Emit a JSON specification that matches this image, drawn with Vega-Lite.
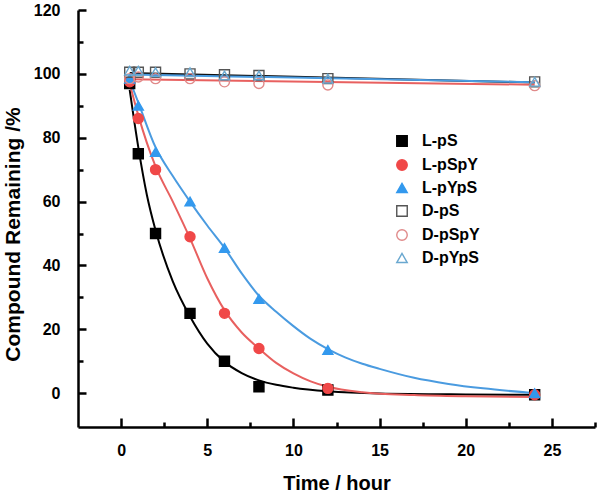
{
  "$schema": "https://vega.github.io/schema/vega-lite/v6.json",
  "width": 517,
  "height": 417,
  "autosize": {"type": "none"},
  "padding": {"left": 78, "top": 10, "right": 5, "bottom": 68},
  "background": "white",
  "config": {
    "view": {"stroke": null},
    "font": "Liberation Sans",
    "axis": {
      "domainColor": "#000",
      "domainWidth": 2.5,
      "tickColor": "#000",
      "tickWidth": 2.5,
      "grid": false,
      "labelFont": "Liberation Sans",
      "labelFontWeight": "bold",
      "labelFontSize": 16,
      "labelColor": "#000",
      "titleFont": "Liberation Sans",
      "titleFontWeight": "bold",
      "titleFontSize": 19,
      "titleColor": "#000"
    }
  },
  "datasets": {
    "pts": [
      {"series": "L-pS", "t": 0.5, "v": 97},
      {"series": "L-pS", "t": 1, "v": 75},
      {"series": "L-pS", "t": 2, "v": 50},
      {"series": "L-pS", "t": 4, "v": 25},
      {"series": "L-pS", "t": 6, "v": 10},
      {"series": "L-pS", "t": 8, "v": 2},
      {"series": "L-pS", "t": 12, "v": 1},
      {"series": "L-pS", "t": 24, "v": -0.5},
      {"series": "L-pSpY", "t": 0.5, "v": 97.5},
      {"series": "L-pSpY", "t": 1, "v": 86},
      {"series": "L-pSpY", "t": 2, "v": 70},
      {"series": "L-pSpY", "t": 4, "v": 49},
      {"series": "L-pSpY", "t": 6, "v": 25},
      {"series": "L-pSpY", "t": 8, "v": 14},
      {"series": "L-pSpY", "t": 12, "v": 1.5},
      {"series": "L-pSpY", "t": 24, "v": -0.5},
      {"series": "L-pYpS", "t": 0.5, "v": 98.5},
      {"series": "L-pYpS", "t": 1, "v": 90},
      {"series": "L-pYpS", "t": 2, "v": 75.5},
      {"series": "L-pYpS", "t": 4, "v": 60},
      {"series": "L-pYpS", "t": 6, "v": 45.5},
      {"series": "L-pYpS", "t": 8, "v": 29.5},
      {"series": "L-pYpS", "t": 12, "v": 13.5},
      {"series": "L-pYpS", "t": 24, "v": 0},
      {"series": "D-pS", "t": 0.5, "v": 100.5},
      {"series": "D-pS", "t": 1, "v": 100.5},
      {"series": "D-pS", "t": 2, "v": 100.5},
      {"series": "D-pS", "t": 4, "v": 100},
      {"series": "D-pS", "t": 6, "v": 99.7},
      {"series": "D-pS", "t": 8, "v": 99.5},
      {"series": "D-pS", "t": 12, "v": 98.5},
      {"series": "D-pS", "t": 24, "v": 97.5},
      {"series": "D-pSpY", "t": 0.5, "v": 98.5},
      {"series": "D-pSpY", "t": 1, "v": 99},
      {"series": "D-pSpY", "t": 2, "v": 98.5},
      {"series": "D-pSpY", "t": 4, "v": 98.5},
      {"series": "D-pSpY", "t": 6, "v": 97.5},
      {"series": "D-pSpY", "t": 8, "v": 97},
      {"series": "D-pSpY", "t": 12, "v": 96.5},
      {"series": "D-pSpY", "t": 24, "v": 96.3},
      {"series": "D-pYpS", "t": 0.5, "v": 101},
      {"series": "D-pYpS", "t": 1, "v": 101},
      {"series": "D-pYpS", "t": 2, "v": 100.5},
      {"series": "D-pYpS", "t": 4, "v": 100.5},
      {"series": "D-pYpS", "t": 6, "v": 99.5},
      {"series": "D-pYpS", "t": 8, "v": 99.5},
      {"series": "D-pYpS", "t": 12, "v": 98.5},
      {"series": "D-pYpS", "t": 24, "v": 97.5}
    ],
    "fits": [
      {"fit": "D-pS", "t": 0.5, "v": 100.3},
      {"fit": "D-pS", "t": 24, "v": 97.3},
      {"fit": "D-pSpY", "t": 0.5, "v": 98.3},
      {"fit": "D-pSpY", "t": 24, "v": 96.6},
      {"fit": "D-pYpS", "t": 0.5, "v": 99.8},
      {"fit": "D-pYpS", "t": 24, "v": 97.4},
      {"fit": "L-pS", "t": 0.5, "v": 95},
      {"fit": "L-pS", "t": 1, "v": 77},
      {"fit": "L-pS", "t": 1.5, "v": 62},
      {"fit": "L-pS", "t": 2, "v": 51},
      {"fit": "L-pS", "t": 3, "v": 35},
      {"fit": "L-pS", "t": 4, "v": 24},
      {"fit": "L-pS", "t": 5, "v": 15.5},
      {"fit": "L-pS", "t": 6, "v": 9.8},
      {"fit": "L-pS", "t": 7, "v": 6.3},
      {"fit": "L-pS", "t": 8, "v": 4},
      {"fit": "L-pS", "t": 9, "v": 2.6},
      {"fit": "L-pS", "t": 10, "v": 1.7},
      {"fit": "L-pS", "t": 12, "v": 0.6},
      {"fit": "L-pS", "t": 15, "v": -0.1},
      {"fit": "L-pS", "t": 20, "v": -0.4},
      {"fit": "L-pS", "t": 24, "v": -0.5},
      {"fit": "L-pSpY", "t": 0.5, "v": 97},
      {"fit": "L-pSpY", "t": 1, "v": 87},
      {"fit": "L-pSpY", "t": 2, "v": 71},
      {"fit": "L-pSpY", "t": 3, "v": 60},
      {"fit": "L-pSpY", "t": 4, "v": 48.5},
      {"fit": "L-pSpY", "t": 5, "v": 36},
      {"fit": "L-pSpY", "t": 6, "v": 26},
      {"fit": "L-pSpY", "t": 7, "v": 19},
      {"fit": "L-pSpY", "t": 8, "v": 14},
      {"fit": "L-pSpY", "t": 9, "v": 9.5},
      {"fit": "L-pSpY", "t": 10, "v": 6.2},
      {"fit": "L-pSpY", "t": 11, "v": 3.7},
      {"fit": "L-pSpY", "t": 12, "v": 2},
      {"fit": "L-pSpY", "t": 14, "v": 0.3},
      {"fit": "L-pSpY", "t": 17, "v": -0.6},
      {"fit": "L-pSpY", "t": 20, "v": -1},
      {"fit": "L-pSpY", "t": 24, "v": -1.2},
      {"fit": "L-pYpS", "t": 0.5, "v": 98},
      {"fit": "L-pYpS", "t": 1, "v": 91},
      {"fit": "L-pYpS", "t": 2, "v": 77},
      {"fit": "L-pYpS", "t": 3, "v": 68},
      {"fit": "L-pYpS", "t": 4, "v": 60},
      {"fit": "L-pYpS", "t": 5, "v": 52.5},
      {"fit": "L-pYpS", "t": 6, "v": 45.5},
      {"fit": "L-pYpS", "t": 7, "v": 37.5},
      {"fit": "L-pYpS", "t": 8, "v": 30.5},
      {"fit": "L-pYpS", "t": 9, "v": 25.5},
      {"fit": "L-pYpS", "t": 10, "v": 21},
      {"fit": "L-pYpS", "t": 11, "v": 17},
      {"fit": "L-pYpS", "t": 12, "v": 13.8},
      {"fit": "L-pYpS", "t": 13, "v": 11.2},
      {"fit": "L-pYpS", "t": 14, "v": 9.2},
      {"fit": "L-pYpS", "t": 15, "v": 7.6},
      {"fit": "L-pYpS", "t": 17, "v": 4.8},
      {"fit": "L-pYpS", "t": 19, "v": 2.9},
      {"fit": "L-pYpS", "t": 21, "v": 1.5},
      {"fit": "L-pYpS", "t": 24, "v": 0}
    ]
  },
  "encoding": {
    "x": {
      "field": "t", "type": "quantitative",
      "scale": {"domain": [-2.5, 27.5], "nice": false, "zero": false},
      "axis": {
        "title": "Time / hour",
        "values": [0, 2.5, 5, 7.5, 10, 12.5, 15, 17.5, 20, 22.5, 25, 27.5],
        "tickSize": {"condition": {"test": "datum.value % 5 === 0", "value": -9}, "value": -5},
        "labelExpr": "datum.value % 5 === 0 ? datum.label : ''",
        "labelPadding": 24,
        "titlePadding": 15,
        "titleFontSize": 20
      }
    },
    "y": {
      "field": "v", "type": "quantitative",
      "scale": {"domain": [-10.6, 120], "nice": false, "zero": false},
      "axis": {
        "title": "Compound Remaining /%",
        "values": [0, 10, 20, 30, 40, 50, 60, 70, 80, 90, 100, 110, 120],
        "tickSize": {"condition": {"test": "datum.value % 20 === 0", "value": -8}, "value": -5},
        "labelExpr": "datum.value % 20 === 0 ? datum.label : ''",
        "labelPadding": 26,
        "titleFontSize": 21,
        "titleX": -55,
        "titleY": 224
      }
    }
  },
  "layer": [
    {
      "data": {"name": "fits"},
      "mark": {"type": "line", "interpolate": "monotone", "strokeWidth": 2},
      "encoding": {
        "detail": {"field": "fit"},
        "color": {
          "field": "fit", "type": "nominal", "legend": null,
          "scale": {
            "domain": ["D-pS", "D-pSpY", "D-pYpS", "L-pS", "L-pSpY", "L-pYpS"],
            "range": ["#111111", "#E8605F", "#4A9BE0", "#000000", "#E8605F", "#4A9BE0"]
          }
        }
      }
    },
    {
      "data": {"name": "pts"},
      "mark": {"type": "point", "strokeWidth": 1.4, "opacity": 1, "size": 100},
      "encoding": {
        "shape": {
          "field": "series", "type": "nominal",
          "scale": {
            "domain": ["L-pS", "L-pSpY", "L-pYpS", "D-pS", "D-pSpY", "D-pYpS"],
            "range": ["square", "circle", "triangle-up", "square", "circle", "triangle-up"]
          },
          "legend": {
            "title": null,
            "orient": "none",
            "legendX": 316,
            "legendY": 123,
            "labelFont": "Liberation Sans",
            "labelFontWeight": "bold",
            "labelFontSize": 16,
            "labelColor": "#000",
            "labelOffset": 12,
            "rowPadding": 6,
            "symbolSize": 110,
            "symbolStrokeWidth": 1.4
          }
        },
        "stroke": {
          "field": "series", "type": "nominal",
          "scale": {
            "domain": ["L-pS", "L-pSpY", "L-pYpS", "D-pS", "D-pSpY", "D-pYpS"],
            "range": ["#000000", "#F04848", "#3399EE", "#555555", "#E08A8A", "#6AA8D0"]
          }
        },
        "fill": {
          "field": "series", "type": "nominal",
          "scale": {
            "domain": ["L-pS", "L-pSpY", "L-pYpS", "D-pS", "D-pSpY", "D-pYpS"],
            "range": ["#000000", "#F04848", "#3399EE", "transparent", "transparent", "transparent"]
          }
        }
      }
    }
  ]
}
